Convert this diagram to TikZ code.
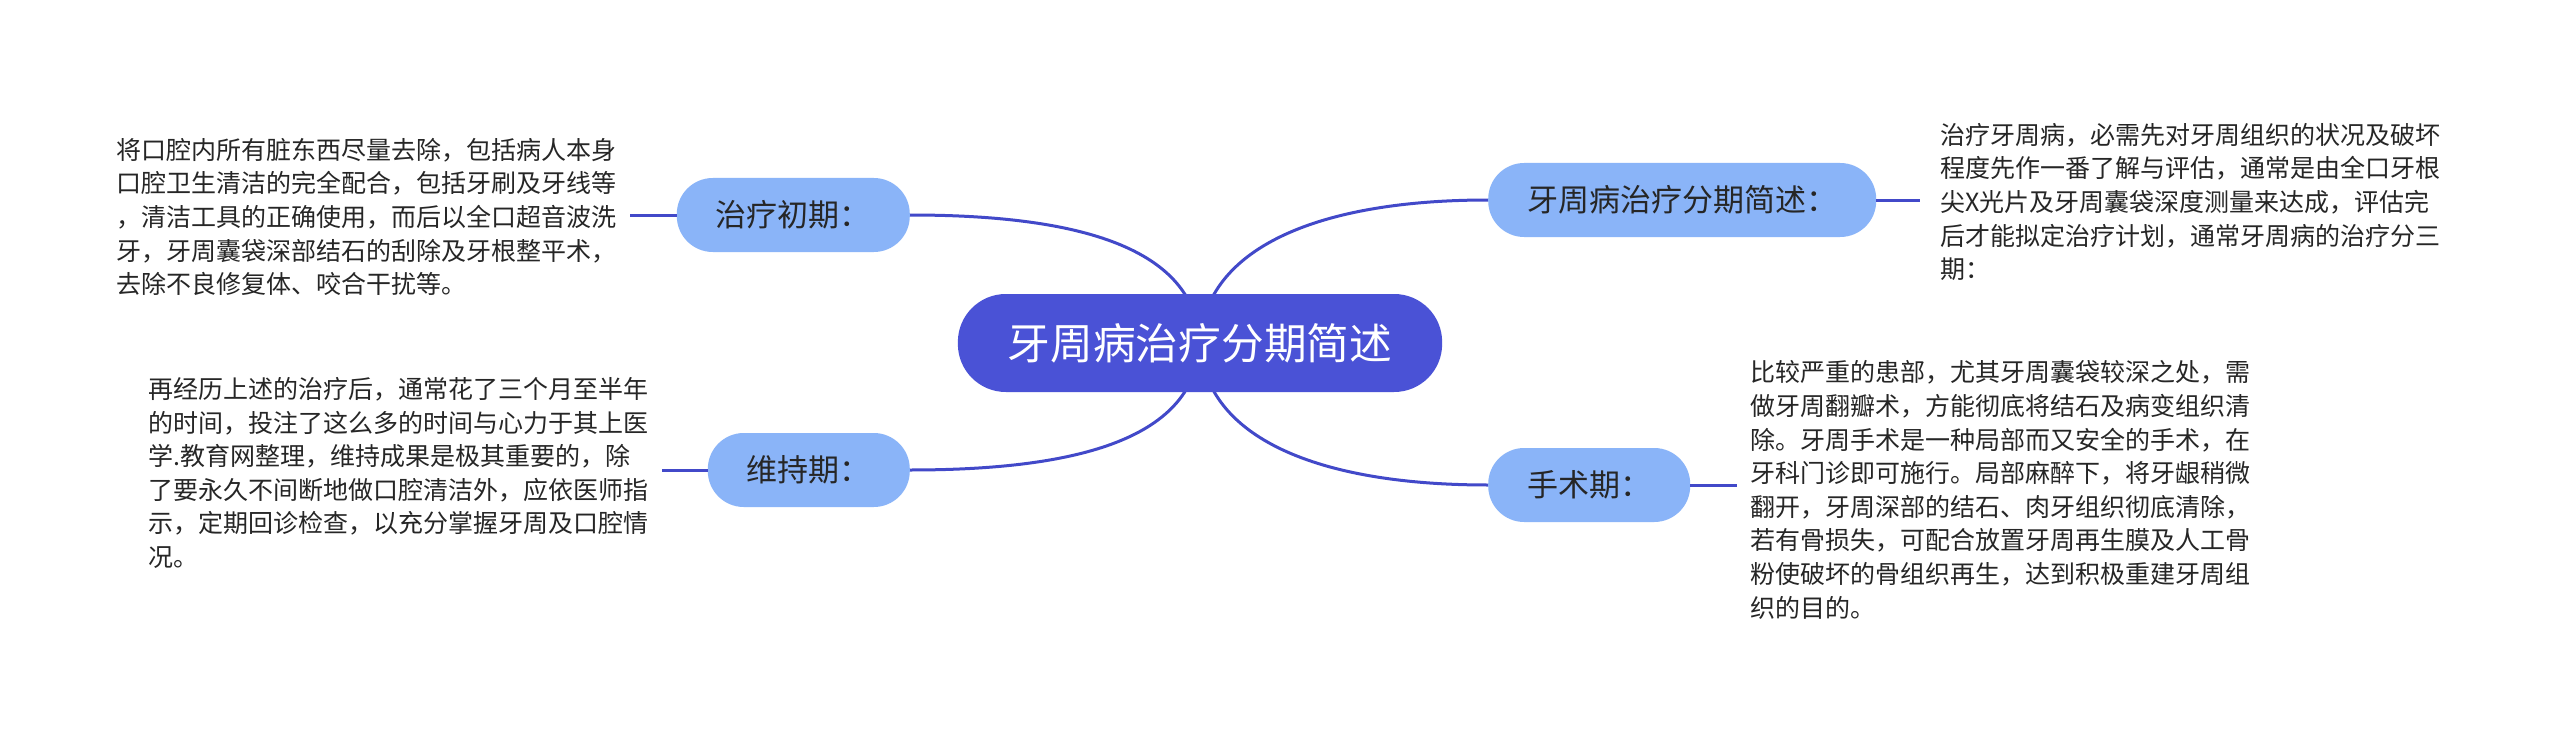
\documentclass[tikz,border=0pt]{standalone}
\usepackage{fontspec}
\setmainfont{Noto Sans CJK SC}
\usetikzlibrary{backgrounds}
\definecolor{rootblue}{HTML}{4A52D6}
\definecolor{branchblue}{HTML}{8AB4F8}
\definecolor{linkblue}{HTML}{4249C9}
\definecolor{inktext}{HTML}{262626}
\begin{document}
\begin{tikzpicture}[x=1pt,y=-1pt,
  root/.style={fill=rootblue,text=white,rounded corners=48pt,minimum height=98pt,
               inner xsep=50pt,font=\fontsize{42.7}{50}\selectfont},
  branch/.style={fill=branchblue,text=inktext,rounded corners=36pt,minimum height=74pt,
                 inner xsep=39pt,font=\fontsize{31}{36}\selectfont},
  note/.style={align=left,text=inktext,inner xsep=13pt,inner ysep=0pt,
               font=\fontsize{25}{33.6}\selectfont},
  link/.style={draw=linkblue,line width=3pt}]
\useasboundingbox (0,0) rectangle (2560,733);
%
% Centre
\node [root] (root) at (1200,343) {牙周病治疗分期简述};
%
% Branches
\node [branch,anchor=east] (early)   at (910,215)  {治疗初期：};
\node [branch,anchor=east] (keep)    at (910,470)  {维持期：};
\node [branch,anchor=west] (intro)   at (1488,200) {牙周病治疗分期简述：};
\node [branch,anchor=west] (surgery) at (1488,485) {手术期：};
%
% Notes
\node [note,anchor=east] (earlytxt) at (630,217) {%
将口腔内所有脏东西尽量去除，包括病人本身\\
口腔卫生清洁的完全配合，包括牙刷及牙线等\\
，清洁工具的正确使用，而后以全口超音波洗\\
牙，牙周囊袋深部结石的刮除及牙根整平术，\\
去除不良修复体、咬合干扰等。};
\node [note,anchor=east] (keeptxt) at (662,473) {%
再经历上述的治疗后，通常花了三个月至半年\\
的时间，投注了这么多的时间与心力于其上医\\
学.教育网整理，维持成果是极其重要的，除\\
了要永久不间断地做口腔清洁外，应依医师指\\
示，定期回诊检查，以充分掌握牙周及口腔情\\
况。};
\node [note,anchor=west,inner xsep=20pt] (introtxt) at (1920,202) {%
治疗牙周病，必需先对牙周组织的状况及破坏\\
程度先作一番了解与评估，通常是由全口牙根\\
尖X光片及牙周囊袋深度测量来达成，评估完\\
后才能拟定治疗计划，通常牙周病的治疗分三\\
期：};
\node [note,anchor=west] (surgerytxt) at (1737,490) {%
比较严重的患部，尤其牙周囊袋较深之处，需\\
做牙周翻瓣术，方能彻底将结石及病变组织清\\
除。牙周手术是一种局部而又安全的手术，在\\
牙科门诊即可施行。局部麻醉下，将牙龈稍微\\
翻开，牙周深部的结石、肉牙组织彻底清除，\\
若有骨损失，可配合放置牙周再生膜及人工骨\\
粉使破坏的骨组织再生，达到积极重建牙周组\\
织的目的。};
%
% Links to notes
\draw [link] (early.west)   -- (earlytxt.east |- early.west);
\draw [link] (keep.west)    -- (keeptxt.east |- keep.west);
\draw [link] (intro.east)   -- (introtxt.west |- intro.east);
\draw [link] (surgery.east) -- (surgerytxt.west |- surgery.east);
%
% Curves from the centre
\begin{scope}[on background layer]
\fill [white] (0,0) rectangle (2560,733);
\draw [link] (root.center) .. controls +(-5,-95) and +(170,0) .. (early.east);
\draw [link] (root.center) .. controls +(-5,95)  and +(170,0) .. (keep.east);
\draw [link] (root.center) .. controls +(5,-95)  and +(-170,0) .. (intro.west);
\draw [link] (root.center) .. controls +(5,95)   and +(-170,0) .. (surgery.west);
\end{scope}
%
\end{tikzpicture}
\end{document}
